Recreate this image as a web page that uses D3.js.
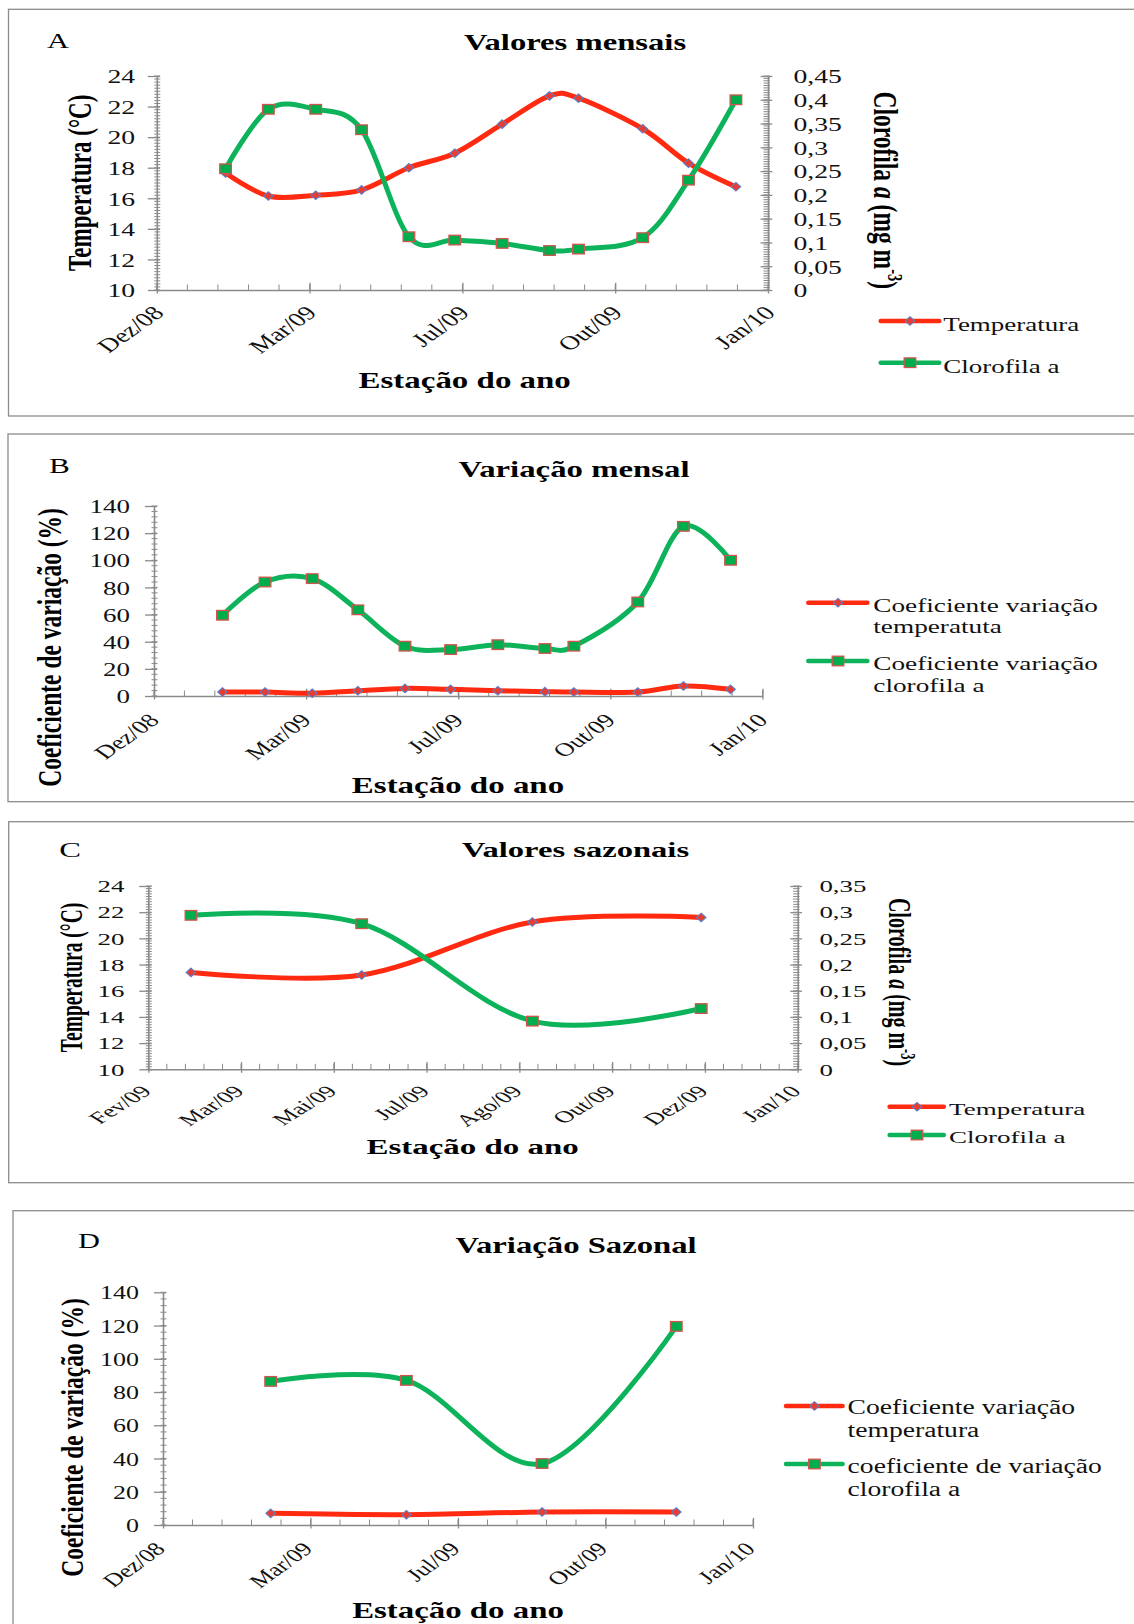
<!DOCTYPE html>
<html>
<head>
<meta charset="utf-8">
<script src="https://cdn.jsdelivr.net/npm/d3@7"></script>
<style>
  html, body { margin: 0; padding: 0; background: #fff; }
  svg { display: block; }
  text { font-family: "Liberation Serif", "Times New Roman", serif; }
</style>
</head>
<body>
<svg id="fig" width="1134" height="1624"></svg>
<script>
// ---- monthly samples (Feb/2009 - Jan/2010) ----
const monthlyDates = ["2009-02-01","2009-03-01","2009-04-01","2009-05-01","2009-06-01","2009-07-01",
                      "2009-08-01","2009-09-01","2009-09-20","2009-11-01","2009-12-01","2010-01-01"];
const monthlyTemperature   = [17.65, 16.15, 16.2, 16.55, 18.0, 18.95, 20.85, 22.7, 22.55, 20.55, 18.3, 16.75];
const monthlyChlorophyll   = [0.255, 0.38, 0.38, 0.337, 0.112, 0.105, 0.098, 0.083, 0.086, 0.11, 0.231, 0.40];
const monthlyCvTemperature = [2.9, 2.9, 2.0, 3.9, 5.6, 4.9, 3.9, 3.2, 2.9, 2.9, 7.4, 4.9];
const monthlyCvChlorophyll = [59.5, 84, 86.5, 63.5, 36.7, 34.2, 37.8, 35, 36.7, 69.3, 125, 100];

// ---- seasonal samples ----
const seasonalDates = ["2009-03-01","2009-06-01","2009-09-01","2009-12-01"];
const seasonalTemperature   = [17.4, 17.2, 21.25, 21.6];
const seasonalChlorophyll   = [0.294, 0.278, 0.092, 0.116];
const seasonalCvTemperature = [7.0, 6.2, 7.8, 7.8];
const seasonalCvChlorophyll = [86.4, 87, 37, 119.5];

// ---- axis ticks ----
const yearAxisTickDates  = ["2008-12-18","2009-03-28","2009-07-06","2009-10-14","2010-01-22"];
const yearAxisTickLabels = ["Dez/08","Mar/09","Jul/09","Out/09","Jan/10"];
const seasonAxisTickDates  = ["2009-02-06","2009-03-28","2009-05-17","2009-07-06","2009-08-25","2009-10-14","2009-12-03","2010-01-22"];
const seasonAxisTickLabels = ["Fev/09","Mar/09","Mai/09","Jul/09","Ago/09","Out/09","Dez/09","Jan/10"];
const temperatureTicks       = [10, 12, 14, 16, 18, 20, 22, 24];
const chlorophyllTicksYear   = [0, 0.05, 0.1, 0.15, 0.2, 0.25, 0.3, 0.35, 0.4, 0.45];
const chlorophyllTicksSeason = [0, 0.05, 0.1, 0.15, 0.2, 0.25, 0.3, 0.35];
const cvTicks = [0, 20, 40, 60, 80, 100, 120, 140];

const RED = "#ff2a10", GREEN = "#0cb35a", AXIS = "#8a8a8a";
const parseDay = d3.utcParse("%Y-%m-%d");
const ptBR = d3.formatLocale({ decimal: ",", thousands: ".", grouping: [3], currency: ["R$", ""] });
const fmtDec = ptBR.format("~g");
const DAY = 864e5;

const svg = d3.select("#fig");
svg.append("rect").attr("width", 1134).attr("height", 1624).attr("fill", "#fff");

const panels = [
  { letter: "A", frame: { left: 8.5, top: 9.3, bottom: 416 }, sx: 1.42,
    letterPos: { x: 47, y: 48, size: 21.5 },
    title: { text: "Valores mensais", x: 575, y: 50, size: 23 },
    plot: { x0: 156.8, x1: 768, y0: 290, y1: 76 },
    xTicks: yearAxisTickDates, xLabels: yearAxisTickLabels, minorDays: 20,
    tickFont: 19.5, labelDx: 8, labelDy: 24,
    left:  { ticks: temperatureTicks, minor: 0.2, gap: 21.6, title: "temp", cx: 80.3, cy: 182.8, size: 23 },
    right: { ticks: chlorophyllTicksYear, minor: 0.005, gap: 25.4, cx: 886, cy: 190.3, size: 23.5 },
    xTitle: { x: 464.7, y: 388.3, size: 23.2 },
    legend: { x0: 880.7, x1: 939.3, mx: 910, tx: 943.3, size: 19, lh: 21.6,
      items: [ { y: 321, base: 330.7, lines: ["Temperatura"] },
               { y: 362.7, base: 372.7, lines: ["Clorofila a"] } ] },
    series: [ { dates: monthlyDates, values: monthlyTemperature, axis: "left" },
              { dates: monthlyDates, values: monthlyChlorophyll, axis: "right" } ] },

  { letter: "B", frame: { left: 8, top: 434, bottom: 801.7 }, sx: 1.42,
    letterPos: { x: 49, y: 473.3, size: 22 },
    title: { text: "Variação mensal", x: 574, y: 476.7, size: 23.1 },
    plot: { x0: 154, x1: 762.5, y0: 696, y1: 506 },
    xTicks: yearAxisTickDates, xLabels: yearAxisTickLabels, minorDays: 20,
    tickFont: 19, labelDx: 6, labelDy: 25.5,
    left: { ticks: cvTicks, minor: 4, gap: 24, title: "cv", cx: 49, cy: 647.4, size: 23.5 },
    right: null,
    xTitle: { x: 458, y: 793.3, size: 23.2 },
    legend: { x0: 808.3, x1: 867.3, mx: 838, tx: 873.3, size: 19.2, lh: 21.6,
      items: [ { y: 602.7, base: 611.7, lines: ["Coeficiente variação", "temperatuta"] },
               { y: 661, base: 670, lines: ["Coeficiente variação", "clorofila a"] } ] },
    series: [ { dates: monthlyDates, values: monthlyCvTemperature, axis: "left" },
              { dates: monthlyDates, values: monthlyCvChlorophyll, axis: "left" } ] },

  { letter: "C", frame: { left: 8.7, top: 821.7, bottom: 1182.7 }, sx: 1.63,
    letterPos: { x: 59.3, y: 856.7, size: 20 },
    title: { text: "Valores sazonais", x: 575.5, y: 856.7, size: 20 },
    plot: { x0: 148.3, x1: 797.7, y0: 1069.3, y1: 886 },
    xTicks: seasonAxisTickDates, xLabels: seasonAxisTickLabels, minorDays: 10,
    tickFont: 16.5, labelDx: 4, labelDy: 23,
    left:  { ticks: temperatureTicks, minor: 0.2, gap: 23.9, title: "temp", cx: 71.6, cy: 977.5, size: 19.5 },
    right: { ticks: chlorophyllTicksSeason, minor: 0.005, gap: 21.7, cx: 899.4, cy: 982, size: 20 },
    xTitle: { x: 472.6, y: 1154.3, size: 20.2 },
    legend: { x0: 889.6, x1: 943.8, mx: 917, tx: 949, size: 16.6, lh: 20,
      items: [ { y: 1106.7, base: 1115, lines: ["Temperatura"] },
               { y: 1135, base: 1143.3, lines: ["Clorofila a"] } ] },
    series: [ { dates: seasonalDates, values: seasonalTemperature, axis: "left" },
              { dates: seasonalDates, values: seasonalChlorophyll, axis: "right" } ] },

  { letter: "D", frame: { left: 13, top: 1210.7, bottom: 1640 }, sx: 1.38,
    letterPos: { x: 78, y: 1248.3, size: 22 },
    title: { text: "Variação Sazonal", x: 576, y: 1252.7, size: 23.7 },
    plot: { x0: 163, x1: 753, y0: 1525, y1: 1292.3 },
    xTicks: yearAxisTickDates, xLabels: yearAxisTickLabels, minorDays: 20,
    tickFont: 18.8, labelDx: 3, labelDy: 25,
    left: { ticks: cvTicks, minor: 4, gap: 24, title: "cv", cx: 72.5, cy: 1437.5, size: 23.5 },
    right: null,
    xTitle: { x: 458, y: 1618, size: 23.8 },
    legend: { x0: 786, x1: 842.6, mx: 814.4, tx: 847.6, size: 20, lh: 23,
      items: [ { y: 1406, base: 1414, lines: ["Coeficiente variação", "temperatura"] },
               { y: 1464, base: 1472.7, lines: ["coeficiente de variação", "clorofila a"] } ] },
    series: [ { dates: seasonalDates, values: seasonalCvTemperature, axis: "left" },
              { dates: seasonalDates, values: seasonalCvChlorophyll, axis: "left" } ] }
];

const seriesStyle = [
  { color: RED, marker: "diamond" },
  { color: GREEN, marker: "square" }
];

function drawMarker(g, kind, cx, cy) {
  if (kind === "diamond") {
    g.append("path")
      .attr("d", `M${cx},${cy - 4.3}L${cx + 4.8},${cy}L${cx},${cy + 4.3}L${cx - 4.8},${cy}Z`)
      .attr("fill", "#ea3b30").attr("stroke", "#5b7fc6").attr("stroke-width", 1.1);
  } else {
    g.append("rect")
      .attr("x", cx - 5.8).attr("y", cy - 4.8).attr("width", 11.6).attr("height", 9.6)
      .attr("fill", "#00ad4c").attr("stroke", "#d0554e").attr("stroke-width", 1.3);
  }
}

function verticalTitle(g, p, spec, rot, kind) {
  const t = g.append("text")
    .attr("transform", `translate(${spec.cx},${spec.cy}) scale(${p.sx},1) rotate(${rot})`)
    .attr("text-anchor", "middle").attr("dominant-baseline", "central")
    .attr("font-weight", "bold").attr("font-size", spec.size).attr("fill", "#000");
  if (kind === "temp") t.text("Temperatura (°C)");
  else if (kind === "cv") t.text("Coeficiente de variação (%)");
  else {
    const sup = spec.size * 0.62, lift = spec.size * 0.28;
    t.append("tspan").text("Clorofila ");
    t.append("tspan").attr("font-style", "italic").text("a");
    t.append("tspan").text(" (mg m");
    t.append("tspan").attr("font-size", sup).attr("dy", -lift).text("-3");
    t.append("tspan").attr("dy", lift).text(")");
  }
}

function drawPanel(p) {
  const g = svg.append("g");
  const f = p.frame;
  g.append("rect")
    .attr("x", f.left).attr("y", f.top).attr("width", 1200).attr("height", f.bottom - f.top)
    .attr("fill", "none").attr("stroke", "#8c8c8c").attr("stroke-width", 1.3);

  g.append("text")
    .attr("transform", `translate(${p.letterPos.x},${p.letterPos.y}) scale(${p.sx},1)`)
    .attr("font-size", p.letterPos.size).attr("fill", "#000").text(p.letter);

  g.append("text")
    .attr("transform", `translate(${p.title.x},${p.title.y}) scale(${p.sx},1)`)
    .attr("text-anchor", "middle").attr("font-weight", "bold")
    .attr("font-size", p.title.size).attr("fill", "#000").text(p.title.text);

  const tickDates = p.xTicks.map(parseDay);
  const x = d3.scaleUtc().domain([tickDates[0], tickDates[tickDates.length - 1]]).range([p.plot.x0, p.plot.x1]);
  const yL = d3.scaleLinear().domain(d3.extent(p.left.ticks)).range([p.plot.y0, p.plot.y1]);
  const yR = p.right ? d3.scaleLinear().domain(d3.extent(p.right.ticks)).range([p.plot.y0, p.plot.y1]) : null;

  // minor ticks
  const minor = g.append("g").attr("stroke", AXIS).attr("stroke-width", 1);
  const [lMin, lMax] = d3.extent(p.left.ticks);
  d3.range(lMin, lMax + p.left.minor / 2, p.left.minor).forEach(v => {
    minor.append("line").attr("x1", p.plot.x0 - 2.5).attr("x2", p.plot.x0 + 3.5)
      .attr("y1", yL(v)).attr("y2", yL(v));
  });
  if (yR) {
    const [rMin, rMax] = d3.extent(p.right.ticks);
    d3.range(rMin, rMax + p.right.minor / 2, p.right.minor).forEach(v => {
      minor.append("line").attr("x1", p.plot.x1 - 4.5).attr("x2", p.plot.x1 + 2)
        .attr("y1", yR(v)).attr("y2", yR(v));
    });
  }
  d3.range(+tickDates[0], +tickDates[tickDates.length - 1] + DAY, p.minorDays * DAY).forEach(t => {
    const xx = x(new Date(t));
    minor.append("line").attr("x1", xx).attr("x2", xx).attr("y1", p.plot.y0).attr("y2", p.plot.y0 - 5.5);
  });

  function styleAxis(a) {
    a.attr("font-family", null).attr("font-size", null);
    a.select(".domain").attr("stroke", AXIS).attr("stroke-width", 1.6);
    a.selectAll(".tick line").attr("stroke", AXIS).attr("stroke-width", 1.3);
    a.selectAll(".tick text").attr("fill", "#111").attr("font-size", p.tickFont);
  }

  // left axis
  const aL = g.append("g").attr("transform", `translate(${p.plot.x0},0)`)
    .call(d3.axisLeft(yL).tickValues(p.left.ticks).tickSizeInner(9).tickSizeOuter(0).tickFormat(d3.format("d")));
  styleAxis(aL);
  aL.selectAll(".tick line").attr("x1", 3.2);
  aL.selectAll(".tick text").attr("x", -p.left.gap / p.sx).attr("dy", "0.35em")
    .attr("transform", `scale(${p.sx},1)`);

  // right axis
  if (yR) {
    const aR = g.append("g").attr("transform", `translate(${p.plot.x1},0)`)
      .call(d3.axisRight(yR).tickValues(p.right.ticks).tickSizeInner(4.3).tickSizeOuter(0).tickFormat(fmtDec));
    styleAxis(aR);
    aR.selectAll(".tick line").attr("x1", -7.4);
    aR.selectAll(".tick text").attr("x", p.right.gap / p.sx).attr("dy", "0.35em")
      .attr("transform", `scale(${p.sx},1)`);
  }

  // bottom axis
  const aB = g.append("g").attr("transform", `translate(0,${p.plot.y0})`)
    .call(d3.axisBottom(x).tickValues(tickDates).tickSizeInner(3.5).tickSizeOuter(0)
      .tickFormat((d, i) => p.xLabels[i]));
  styleAxis(aB);
  aB.selectAll(".tick line").attr("y1", -7.2);
  aB.selectAll(".tick text").attr("x", 0).attr("y", 0).attr("dy", 0)
    .attr("text-anchor", "end")
    .attr("transform", `translate(${p.labelDx},${p.labelDy}) scale(${p.sx},1) rotate(-45)`);

  // axis titles
  verticalTitle(g, p, p.left, -90, p.left.title);
  if (p.right) verticalTitle(g, p, p.right, 90, "chl");
  g.append("text")
    .attr("transform", `translate(${p.xTitle.x},${p.xTitle.y}) scale(${p.sx},1)`)
    .attr("text-anchor", "middle").attr("font-weight", "bold")
    .attr("font-size", p.xTitle.size).attr("fill", "#000").text("Estação do ano");

  // series: smoothed lines with markers
  p.series.forEach((s, i) => {
    const st = seriesStyle[i];
    const y = s.axis === "right" ? yR : yL;
    const pts = s.dates.map((d, k) => ({ date: parseDay(d), v: s.values[k] }));
    const line = d3.line().x(d => x(d.date)).y(d => y(d.v)).curve(d3.curveCardinal.tension(0));
    const sg = g.append("g");
    sg.append("path").datum(pts).attr("d", line)
      .attr("fill", "none").attr("stroke", st.color).attr("stroke-width", 5)
      .attr("stroke-linejoin", "round").attr("stroke-linecap", "round");
    pts.forEach(d => drawMarker(sg, st.marker, x(d.date), y(d.v)));
  });

  // legend
  const L = p.legend;
  L.items.forEach((it, i) => {
    const st = seriesStyle[i];
    g.append("line").attr("x1", L.x0).attr("x2", L.x1).attr("y1", it.y).attr("y2", it.y)
      .attr("stroke", st.color).attr("stroke-width", 4.5).attr("stroke-linecap", "round");
    drawMarker(g, st.marker, L.mx, it.y);
    it.lines.forEach((ln, k) => {
      g.append("text")
        .attr("transform", `translate(${L.tx},${it.base + k * L.lh}) scale(${p.sx},1)`)
        .attr("font-size", L.size).attr("fill", "#111").text(ln);
    });
  });
}

panels.forEach(drawPanel);
</script>
</body>
</html>
